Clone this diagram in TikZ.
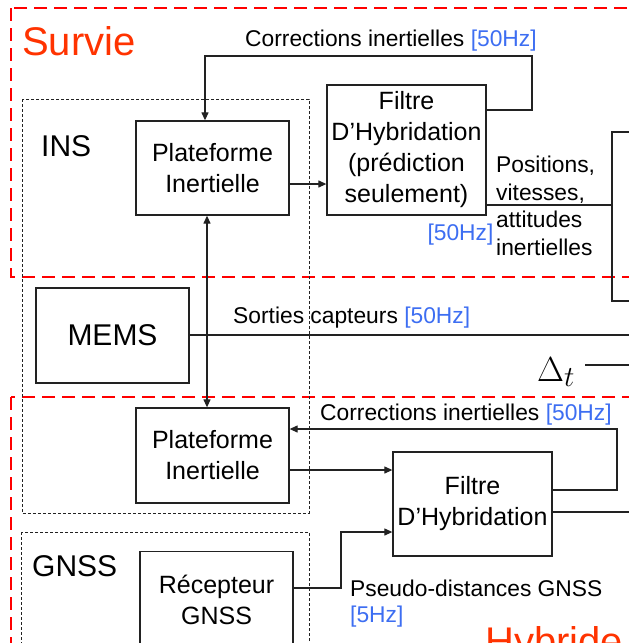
\documentclass[tikz,border=0pt]{standalone}
\usepackage{fontspec}
\setmainfont{Liberation Sans}
\usetikzlibrary{arrows.meta}
\definecolor{survred}{HTML}{FF0000}
\definecolor{titlered}{HTML}{FF3300}
\definecolor{hzblue}{HTML}{3D6EF2}
\definecolor{lin}{HTML}{222222}
\tikzset{
  blk/.style={draw=lin, line width=1.3pt, rectangle, align=center, inner sep=0pt,
    font=\fontsize{25}{31}\selectfont},
  lbl/.style={inner sep=0pt, font=\fontsize{22.8}{27.5}\selectfont},
  zone/.style={draw=survred, line width=2pt, dash pattern=on 13pt off 7pt},
  subsys/.style={draw=lin, line width=0.9pt, dash pattern=on 3pt off 2pt},
  conn/.style={draw=lin, line width=1.2pt},
  arr/.style={conn, -{Triangle[length=8pt,width=7pt]}},
  darr/.style={conn, {Triangle[length=8pt,width=7pt]}-{Triangle[length=8pt,width=7pt]}},
  bigtitle/.style={inner sep=0pt, text=titlered, font=\fontsize{40}{48}\selectfont},
  systitle/.style={inner sep=0pt, font=\fontsize{30}{36}\selectfont},
}
\begin{document}
\begin{tikzpicture}[x=1pt,y=-1pt]
\useasboundingbox (0,0) rectangle (629,643);
\clip (0,0) rectangle (629,643);
\fill[white] (0,0) rectangle (629,643);

% zones
\draw[zone] (11,8) rectangle (670,277);
\draw[zone] (11,397) rectangle (670,670);
\draw[subsys] (22,99) rectangle (309,513);
\draw[subsys] (21,532) rectangle (309,670);

% titles
\node[bigtitle, anchor=base west] (tsurvie) at (22,55) {Survie};
\node[bigtitle, anchor=base west] (thybride) at (485,655) {Hybride};
\node[systitle, anchor=base west] (tins) at (41,156) {INS};
\node[systitle, anchor=base west] (tgnss) at (32,576) {GNSS};

% blocks
\node[blk, minimum width=153pt, minimum height=94pt] (plat1) at (212.5,168) {Plateforme\\Inertielle};
\node[blk, minimum width=159pt, minimum height=130pt] (filt1) at (406.5,150) {Filtre\\D’Hybridation\\(prédiction\\seulement)};
\node[blk, minimum width=153pt, minimum height=95pt, font=\fontsize{30}{36}\selectfont] (mems) at (112.5,335.5) {MEMS};
\node[blk, minimum width=153pt, minimum height=95pt] (plat2) at (212.5,455.5) {Plateforme\\Inertielle};
\node[blk, minimum width=159pt, minimum height=104pt] (filt2) at (472.5,504) {Filtre\\D’Hybridation};
\node[blk, minimum width=153pt, minimum height=97pt] (recep) at (216.5,600) {Récepteur\\GNSS};
\node[blk, minimum width=68pt, minimum height=169pt] (rbox) at (646,216.5) {};

% free ends
\coordinate (memsend) at (650,335);
\coordinate (deltaA) at (585,365);
\coordinate (deltaB) at (650,365);
\coordinate (filt2end) at (650,512);

% connectors
\draw[arr] (filt1.east |- 0,110) -- (532,110) -- (532,56) -- (205,56) -- (205,0 |- plat1.north);
\draw[arr] (plat1.east |- 0,184) -- (filt1.west |- 0,184);
\draw[conn] (filt1.east |- 0,205) -- (rbox.west |- 0,205);
\draw[conn] (mems.east |- 0,335) -- (memsend);
\draw[darr] (207,0 |- plat1.south) -- (207,0 |- plat2.north);
\draw[conn] (deltaA) -- (deltaB);
\draw[arr] (filt2.east |- 0,490) -- (617,490) -- (617,429) -- (plat2.east |- 0,429);
\draw[arr] (plat2.east |- 0,470) -- (filt2.west |- 0,470);
\draw[conn] (filt2.east |- 0,512) -- (filt2end);
\draw[arr] (recep.east |- 0,588) -- (341,588) -- (341,532) -- (filt2.west |- 0,532);

% labels
\node[lbl, anchor=base west] (lcorr1) at (245,46) {Corrections inertielles \textcolor{hzblue}{[50Hz]}};
\node[lbl, anchor=west, align=left] (lpos) at (496,206) {Positions,\\vitesses,\\attitudes\\inertielles};
\node[lbl, text=hzblue] (lhz1) at (460.5,235) {[50Hz]};
\node[lbl, anchor=west] (lsort) at (233,318) {Sorties capteurs \textcolor{hzblue}{[50Hz]}};
\node[inner sep=0pt, anchor=base west] (ldelta) at (537,381) {\scalebox{1.4}{\fontsize{24.88}{30}\selectfont$\Delta_t$}};
\node[lbl, anchor=west] (lcorr2) at (320,415) {Corrections inertielles \textcolor{hzblue}{[50Hz]}};
\node[lbl, anchor=west] (lpseudo) at (350,588) {Pseudo-distances GNSS};
\node[lbl, anchor=west, text=hzblue] (l5hz) at (350,617) {[5Hz]};
\end{tikzpicture}
\end{document}
